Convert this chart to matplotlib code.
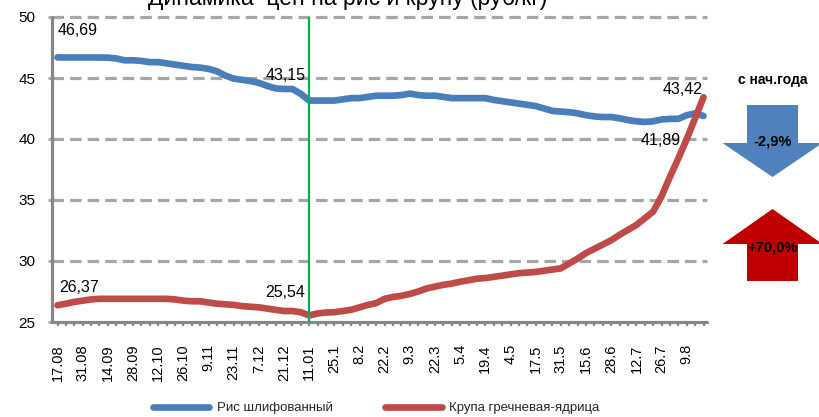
import matplotlib
matplotlib.use("Agg")
import matplotlib.pyplot as plt
from matplotlib.patches import Polygon
from matplotlib.lines import Line2D

plt.rcParams['font.family'] = ['Liberation Sans', 'DejaVu Sans']

# ---------------- data ----------------
date_labels = ["17.08", "31.08", "14.09", "28.09", "12.10", "26.10", "9.11", "23.11",
               "7.12", "21.12", "11.01", "25.1", "8.2", "22.2", "9.3", "22.3", "5.4",
               "19.4", "4.5", "17.5", "31.5", "15.6", "28.6", "12.7", "26.7", "9.8"]

rice = [46.69, 46.68, 46.68, 46.68, 46.68, 46.68, 46.67, 46.60, 46.45, 46.45,
        46.40, 46.30, 46.30, 46.20, 46.10, 46.00, 45.90, 45.85, 45.75, 45.55,
        45.20, 44.95, 44.85, 44.75, 44.60, 44.35, 44.15, 44.10, 44.10, 43.70,
        43.15, 43.15, 43.15, 43.15, 43.25, 43.35, 43.35, 43.45, 43.55, 43.55,
        43.55, 43.60, 43.72, 43.60, 43.55, 43.55, 43.45, 43.35, 43.35, 43.35,
        43.35, 43.35, 43.20, 43.10, 43.00, 42.90, 42.80, 42.70, 42.50, 42.30,
        42.25, 42.20, 42.10, 41.95, 41.85, 41.80, 41.80, 41.70, 41.55, 41.45,
        41.40, 41.45, 41.60, 41.65, 41.65, 41.95, 42.10, 41.89]

buckwheat = [26.37, 26.50, 26.65, 26.75, 26.85, 26.90, 26.90, 26.90, 26.90, 26.90,
             26.90, 26.90, 26.90, 26.90, 26.85, 26.75, 26.70, 26.70, 26.60, 26.50,
             26.45, 26.40, 26.30, 26.25, 26.20, 26.10, 26.00, 25.90, 25.90, 25.80,
             25.54, 25.70, 25.78, 25.80, 25.90, 26.00, 26.20, 26.40, 26.55, 26.90,
             27.05, 27.15, 27.30, 27.50, 27.75, 27.90, 28.05, 28.15, 28.30, 28.42,
             28.55, 28.60, 28.70, 28.80, 28.90, 29.00, 29.05, 29.10, 29.20, 29.30,
             29.40, 29.80, 30.20, 30.65, 31.00, 31.35, 31.70, 32.15, 32.55, 32.95,
             33.50, 34.05, 35.30, 36.90, 38.40, 40.00, 41.70, 43.42]

series_names = ["Рис шлифованный", "Крупа гречневая-ядрица"]
ytd_changes = ["-2,9%", "+70,0%"]
marker_date = "11.01"
title = "Динамика  цен на рис и крупу (руб/кг)"

# ---------------- figure ----------------
W, H = 819, 417
fig = plt.figure(figsize=(W / 100, H / 100), dpi=100)

ax_l, ax_r, ax_t, ax_b = 52, 707, 17, 322
ax = fig.add_axes([ax_l / W, (H - ax_b) / H, (ax_r - ax_l) / W, (ax_b - ax_t) / H])

n = len(rice)
x = list(range(n))
step = 3
label_idx = list(range(0, n, step))[:len(date_labels)]

blue = '#4A7EBB'
red = '#BE4B48'
gray = '#A6A6A6'
axis_gray = '#868686'

ax.set_ylim(25, 50)
s = (703.5 - 57.5) / (n - 1)
ax.set_xlim(-(57.5 - ax_l) / s, (n - 1) + (ax_r - 703.5) / s)

ax.set_yticks(range(25, 51, 5))
ax.set_xticks(label_idx)
ax.set_xticklabels(date_labels, rotation=90, fontsize=10.5, color='#000000')
ax.set_xticks(x, minor=True)

for yv in range(30, 51, 5):
    ax.axhline(yv, color=gray, lw=2.3, ls=(0, (3.6, 1.9)), zorder=1, clip_on=False)

for sp in ['top', 'right']:
    ax.spines[sp].set_visible(False)
for sp in ['left', 'bottom']:
    ax.spines[sp].set_color(axis_gray)
    ax.spines[sp].set_linewidth(2.3)
    ax.spines[sp].set_capstyle('round')

ax.tick_params(axis='y', which='major', length=3, width=2, color=gray,
               labelsize=11, pad=9, labelcolor='#000000')
ax.tick_params(axis='x', which='both', length=3, width=1.6, color=axis_gray,
               direction='out', pad=13)

ax.plot(x, rice, color=blue, lw=4.8, solid_capstyle='round', solid_joinstyle='round', zorder=3)
ax.plot(x, buckwheat, color=red, lw=4.8, solid_capstyle='round', solid_joinstyle='round', zorder=4)

mi = label_idx[date_labels.index(marker_date)]
ax.axvline(mi, color='#00B050', lw=1.6, zorder=5)

def fmt(v):
    return f"{v:.2f}".replace('.', ',')

lab_kw = dict(textcoords='offset pixels', fontsize=11.5, color='#000000', zorder=6)
ax.annotate(fmt(rice[0]), (0, rice[0]), xytext=(0, 19), ha='left', va='bottom', **lab_kw)
ax.annotate(fmt(rice[mi]), (mi, rice[mi]), xytext=(-4, 18), ha='right', va='bottom', **lab_kw)
ax.annotate(fmt(rice[-1]), (n - 1, rice[-1]), xytext=(-23, -17), ha='right', va='top', **lab_kw)
ax.annotate(fmt(buckwheat[0]), (0, buckwheat[0]), xytext=(2, 10), ha='left', va='bottom', **lab_kw)
ax.annotate(fmt(buckwheat[mi]), (mi, buckwheat[mi]), xytext=(-4, 15), ha='right', va='bottom', **lab_kw)
ax.annotate(fmt(buckwheat[-1]), (n - 1, buckwheat[-1]), xytext=(-1, 0), ha='right', va='bottom', **lab_kw)

# title (partially cut at top, as in the reference)
fig.text(348 / W, (H - 5) / H, title, fontsize=16.5, ha='center', va='baseline', color='#000000')

# legend
handles = [Line2D([], [], color=blue, lw=4.8, solid_capstyle='round'),
           Line2D([], [], color=red, lw=4.8, solid_capstyle='round')]
fig.legend(handles, series_names, loc='center', bbox_to_anchor=(376 / W, (H - 408) / H),
           ncol=2, frameon=False, fontsize=9.5, handlelength=4.3, handletextpad=0.55,
           columnspacing=4.0, labelcolor='#262626')

# right-side arrows (overlay in pixel coordinates)
ov = fig.add_axes([0, 0, 1, 1], facecolor='none')
ov.set_xlim(0, W)
ov.set_ylim(H, 0)
ov.axis('off')

cx, sw, hw = 772.5, 25.5, 50
down = [(cx - sw, 105), (cx + sw, 105), (cx + sw, 143), (cx + hw, 143), (cx, 177),
        (cx - hw, 143), (cx - sw, 143)]
up = [(cx, 209), (cx + hw, 244), (cx + sw, 244), (cx + sw, 281), (cx - sw, 281),
      (cx - sw, 244), (cx - hw, 244)]
ov.add_patch(Polygon(down, closed=True, facecolor='#4F81BD', edgecolor='none'))
ov.add_patch(Polygon(up, closed=True, facecolor='#C00000', edgecolor='none'))
ov.text(cx, 80, "с нач.года", ha='center', va='center', fontsize=10, fontweight='bold')
ov.text(cx, 141, ytd_changes[0], ha='center', va='center', fontsize=10.5, fontweight='bold')
ov.text(cx, 247, ytd_changes[1], ha='center', va='center', fontsize=10.5, fontweight='bold')

fig.savefig("out.png", dpi=100)
